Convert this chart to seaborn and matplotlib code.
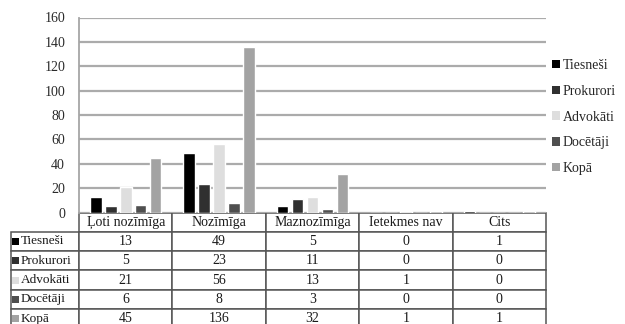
import matplotlib
matplotlib.use("Agg")
import matplotlib.pyplot as plt
import pandas as pd
import seaborn as sns
from matplotlib.patches import Patch, Rectangle

# Survey answers by respondent group
categories = ["Ļoti nozīmīga", "Nozīmīga", "Maznozīmīga", "Ietekmes nav", "Cits"]
groups = ["Tiesneši", "Prokurori", "Advokāti", "Docētāji", "Kopā"]
tiesnesi = [13, 49, 5, 0, 1]
prokurori = [5, 23, 11, 0, 0]
advokati = [21, 56, 13, 1, 0]
docetaji = [6, 8, 3, 0, 0]
kopa = [45, 136, 32, 1, 1]
y_ticks = [0, 20, 40, 60, 80, 100, 120, 140, 160]

colors = ["#000000", "#303030", "#dedede", "#4f4f4f", "#a3a3a3"]

series = [tiesnesi, prokurori, advokati, docetaji, kopa]
df = pd.DataFrame(
    [(c, g, v) for g, vals in zip(groups, series) for c, v in zip(categories, vals)],
    columns=["kategorija", "grupa", "skaits"],
)

sns.set_style("white")
FAMILY = ["Liberation Serif", "DejaVu Serif"]
plt.rcParams["font.family"] = FAMILY

W, H = 625, 324
fig = plt.figure(figsize=(W / 100, H / 100), dpi=100)
ax_l, ax_r, ax_t, ax_b = 79, 546, 17.5, 212.5
ax = fig.add_axes([ax_l / W, 1 - ax_b / H, (ax_r - ax_l) / W, (ax_b - ax_t) / H])

sns.barplot(
    data=df, x="kategorija", y="skaits", hue="grupa",
    order=categories, hue_order=groups, palette=colors,
    width=0.8, gap=0.22, legend=False, ax=ax, saturation=1,
)

ax.set_ylim(0, 160)
ax.set_xlim(-0.5, len(categories) - 0.5)
ax.set_yticks(y_ticks)
ax.set_yticklabels([str(t) for t in y_ticks], fontsize=10, color="#2a2a2a")
ax.tick_params(axis="y", length=0, pad=10)
ax.set_xticks([])
ax.set_xlabel("")
ax.set_ylabel("")
ax.yaxis.grid(True, color="#ababab", linewidth=1.6)
ax.set_axisbelow(True)
for s in ["top", "right", "bottom"]:
    ax.spines[s].set_visible(False)
ax.spines["left"].set_color("#a6a6a6")
ax.spines["left"].set_linewidth(1.3)

# Data table under the bars
ax_w = ax_r - ax_l
ax_h = ax_b - ax_t
lab_w = 68
row_h = 19.3
n_rows = len(groups) + 1
cell_text = [[""] + [str(v) for v in vals] for vals in series]
col_w = [lab_w / ax_w] + [1.0 / len(categories)] * len(categories)
tbl = ax.table(
    cellText=cell_text,
    colLabels=[""] + categories,
    colWidths=col_w,
    cellLoc="center",
    bbox=[-lab_w / ax_w, -n_rows * row_h / ax_h, (ax_w + lab_w) / ax_w, n_rows * row_h / ax_h],
)
tbl.auto_set_font_size(False)
tbl.set_fontsize(10)
for (r, c), cell in tbl.get_celld().items():
    cell.set_edgecolor("#555555")
    cell.set_linewidth(1.1)
    txt = cell.get_text()
    txt.set_fontfamily(FAMILY)
    txt.set_color("#1a1a1a")
    if r == 0 and c == 0:
        cell.visible_edges = ""

# Row labels with their colour keys
for i, (g, col) in enumerate(zip(groups, colors)):
    yc = ax_b + row_h * (i + 1.5)
    fig.patches.append(
        Rectangle((12 / W, 1 - (yc + 3.5) / H), 7 / W, 7 / H,
                  transform=fig.transFigure, facecolor=col, edgecolor="none")
    )
    fig.text(20.5 / W, 1 - yc / H, g, ha="left", va="center",
             fontsize=9.5, family=FAMILY, color="#1a1a1a")

handles = [Patch(facecolor=c, edgecolor="none") for c in colors]
fig.legend(
    handles, groups, loc="center left", bbox_to_anchor=(552 / W, 1 - 117 / H),
    frameon=False, handlelength=0.55, handleheight=0.55,
    handletextpad=0.2, labelspacing=0.92, borderaxespad=0, borderpad=0,
    prop={"family": FAMILY, "size": 10},
)

fig.savefig("out.png", dpi=100)
